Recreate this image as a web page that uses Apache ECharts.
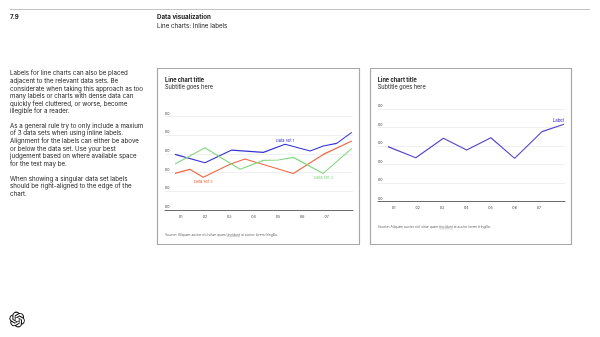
<!DOCTYPE html>
<html>
<head>
<meta charset="utf-8">
<title>Line charts: Inline labels</title>
<script src="https://cdn.jsdelivr.net/npm/echarts@6/dist/echarts.min.js"></script>
<style>
  html, body { margin: 0; padding: 0; background: #fff; }
  #main { width: 600px; height: 337px; }
</style>
</head>
<body>
<div id="main"></div>
<script>
// Category tick labels shared by both charts
const categories = ['01', '02', '03', '04', '05', '06', '07'];
// Value-axis tick labels (placeholder text on every gridline)
const yTicks = ['00', '00', '00', '00', '00', '00'];

// Multi-series chart: vertex positions along the category scale and values
const set1X = [0.77, 2.0, 3.1, 4.4, 5.29, 6.32, 6.86, 7.41, 8.03];
const set1Y = [2.98, 2.53, 3.21, 3.09, 3.52, 3.16, 3.43, 3.57, 4.16];
const set2X = [0.77, 1.38, 1.93, 3.03, 3.64, 5.63, 6.86, 8.03];
const set2Y = [1.96, 2.18, 1.75, 2.45, 2.73, 1.96, 2.98, 3.70];
const set3X = [0.77, 2.0, 3.44, 4.40, 5.01, 5.63, 6.86, 8.03];
const set3Y = [2.46, 3.34, 2.18, 2.66, 2.68, 2.82, 1.96, 3.30];

// Single-series chart
const singleX = [0.77, 1.92, 3.06, 4.02, 5.02, 6.0, 7.13, 8.04];
const singleY = [2.97, 2.37, 3.42, 2.79, 3.45, 2.34, 3.78, 4.18];

const seriesNames = ['Data set 1', 'Data set 2', 'Data set 3'];
const singleLabel = 'Label';

const FONT = 'Inter, "Liberation Sans", Arial, sans-serif';
const X_MIN = 0.36, X_MAX = 8.08;
const COLORS = { set1: '#3535d2', set2: '#ee6942', set3: '#84d884', single: '#5447cf' };

const paragraphs = [
  'Labels for line charts can also be placed\nadjacent to the relevant data sets. Be\nconsiderate when taking this approach as too\nmany labels or charts with dense data can\nquickly feel cluttered, or worse, become\nillegible for a reader.',
  'As a general rule try to only include a maxium\nof 3 data sets when using inline labels.\nAlignment for the labels can either be above\nor below the data set. Use your best\njudgement based on where available space\nfor the text may be.',
  'When showing a singular data set labels\nshould be right-aligned to the edge of the\nchart.'
];
const sourcePre = 'Source: Aliquam auctor nisl vitae quam ';
const sourceLink = 'tincidunt';
const sourcePost = ' at auctor lorem fringilla.';

const logoPath = 'M22.2819 9.8211a5.9847 5.9847 0 0 0-.5157-4.9108 6.0462 6.0462 0 0 0-6.5098-2.9A6.0651 6.0651 0 0 0 4.9807 4.1818a5.9847 5.9847 0 0 0-3.9977 2.9 6.0462 6.0462 0 0 0 .7427 7.0966 5.98 5.98 0 0 0 .511 4.9107 6.051 6.051 0 0 0 6.5146 2.9001A5.9847 5.9847 0 0 0 13.2599 24a6.0557 6.0557 0 0 0 5.7718-4.2058 5.9894 5.9894 0 0 0 3.9977-2.9001 6.0557 6.0557 0 0 0-.7475-7.0729zm-9.022 12.6081a4.4755 4.4755 0 0 1-2.8764-1.0408l.1419-.0804 4.7783-2.7582a.7948.7948 0 0 0 .3927-.6813v-6.7369l2.02 1.1686a.071.071 0 0 1 .038.052v5.5826a4.504 4.504 0 0 1-4.4945 4.4944zm-9.6607-4.1254a4.4708 4.4708 0 0 1-.5346-3.0137l.142.0852 4.783 2.7582a.7712.7712 0 0 0 .7806 0l5.8428-3.3685v2.3324a.0804.0804 0 0 1-.0332.0615L9.74 19.9502a4.4992 4.4992 0 0 1-6.1408-1.6464zM2.3408 7.8956a4.485 4.485 0 0 1 2.3655-1.9728V11.6a.7664.7664 0 0 0 .3879.6765l5.8144 3.3543-2.0201 1.1685a.0757.0757 0 0 1-.071 0l-4.8303-2.7865A4.504 4.504 0 0 1 2.3408 7.872zm16.5963 3.8558L13.1038 8.364 15.1192 7.2a.0757.0757 0 0 1 .071 0l4.8303 2.7913a4.4944 4.4944 0 0 1-.6765 8.1042v-5.6772a.79.79 0 0 0-.407-.667zm2.0107-3.0231l-.142-.0852-4.7735-2.7818a.7759.7759 0 0 0-.7854 0L9.409 9.2297V6.8974a.0662.0662 0 0 1 .0284-.0615l4.8303-2.7866a4.4992 4.4992 0 0 1 6.6802 4.66zM8.3065 12.863l-2.02-1.1638a.0804.0804 0 0 1-.038-.0567V6.0742a4.4992 4.4992 0 0 1 7.3757-3.4537l-.142.0805L8.704 5.459a.7948.7948 0 0 0-.3927.6813zm1.0976-2.3654l2.602-1.4998 2.6069 1.4998v2.9994l-2.5974 1.4997-2.6067-1.4997Z';

// Logo outline as a reusable shape for the graphic component
echarts.graphic.registerShape('brandMark', echarts.graphic.extendPath(logoPath, {}));

// Build [x, y] pairs; one vertex optionally carries the inline label
function points(xs, ys, labelIndex, label, name) {
  return xs.map((x, i) => {
    if (i === labelIndex) {
      return { value: [x, ys[i]], label: Object.assign({ show: true, formatter: name }, label) };
    }
    return [x, ys[i]];
  });
}

function lineSeries(name, idx, data, color) {
  return {
    name: name, type: 'line', xAxisIndex: idx, yAxisIndex: idx,
    data: data, symbol: 'circle', symbolSize: 0, showSymbol: true,
    lineStyle: { color: color, width: 1.15 }, itemStyle: { color: color },
    label: { show: false, color: color, fontFamily: FONT, fontSize: 4 },
    emphasis: { disabled: true }, silent: true, z: 3
  };
}

function measure(str, font) {
  const c = document.createElement('canvas').getContext('2d');
  c.font = font;
  return c.measureText(str).width;
}

function sourceGraphics(x, y) {
  const size = 3.3;
  const font = size + 'px ' + FONT;
  const preW = measure(sourcePre, font);
  const linkW = measure(sourceLink, font);
  return [
    { type: 'text', x: x, y: y, style: { text: sourcePre + sourceLink + sourcePost, fontFamily: FONT, fontSize: size, fill: '#666', verticalAlign: 'middle' } },
    { type: 'line', shape: { x1: x + preW, y1: y + 1.6, x2: x + preW + linkW, y2: y + 1.6 }, style: { stroke: '#888', lineWidth: 0.35 } }
  ];
}

function text(x, y, str, size, weight, color, lineHeight, vAlign) {
  return { type: 'text', x: x, y: y, style: {
    text: str, fill: color || '#1a1a1a', fontFamily: FONT, fontSize: size,
    fontWeight: weight || 'normal', verticalAlign: vAlign || 'middle', lineHeight: lineHeight
  } };
}

const axisLabelStyle = { fontFamily: FONT, fontSize: 3.6, color: '#444' };

const xAxes = [0, 1].map(i => ({
  type: 'value', gridIndex: i, min: X_MIN, max: X_MAX,
  axisLine: { show: true, onZero: false, lineStyle: { color: '#4a4a4a', width: 0.8 } },
  axisTick: { show: false }, splitLine: { show: false },
  axisLabel: Object.assign({
    customValues: categories.map((c, k) => k + 1),
    formatter: v => categories[Math.round(v) - 1], margin: 4.5
  }, axisLabelStyle)
}));

const yAxes = [0, 1].map(i => ({
  type: 'value', gridIndex: i, min: 0, max: 5, interval: 1,
  axisLine: { show: false }, axisTick: { show: false },
  splitLine: { lineStyle: { color: '#ebebeb', width: 0.8 } },
  axisLabel: Object.assign({
    inside: true, margin: 0, verticalAlign: 'bottom', padding: [0, 0, 1, 0],
    formatter: v => yTicks[v]
  }, axisLabelStyle)
}));

const chart = echarts.init(document.getElementById('main'), null, { renderer: 'canvas' });

const LH = 7.6;
chart.setOption({
  animation: false,
  backgroundColor: '#ffffff',
  grid: [
    { left: 165, top: 116.7, width: 188, height: 93.3 },
    { left: 378, top: 109, width: 187, height: 92.7 }
  ],
  xAxis: xAxes,
  yAxis: yAxes,
  series: [
    lineSeries(seriesNames[0], 0, points(set1X, set1Y, 4, { position: 'top', distance: 2 }, seriesNames[0]), COLORS.set1),
    lineSeries(seriesNames[1], 0, points(set2X, set2Y, 2, { position: 'bottom', distance: 2.5 }, seriesNames[1]), COLORS.set2),
    lineSeries(seriesNames[2], 0, points(set3X, set3Y, 6, { position: 'bottom', distance: 2.5 }, seriesNames[2]), COLORS.set3),
    lineSeries(singleLabel, 1, points(singleX, singleY, singleX.length - 1,
      { position: 'top', distance: 2, align: 'right', fontSize: 4.4, fontWeight: 500 }, singleLabel), COLORS.single)
  ],
  graphic: [
    // Page header
    { type: 'line', shape: { x1: 10, y1: 9.5, x2: 590, y2: 9.5 }, style: { stroke: '#c4c4c4', lineWidth: 1 } },
    text(10, 17.5, '7.9', 6.2, 'bold'),
    text(157, 17.5, 'Data visualization', 6.2, 'bold'),
    text(157, 26, 'Line charts: Inline labels', 6.2, 'normal'),
    // Body copy
    text(10, 73.5 - LH / 2, paragraphs[0], 6.2, 'normal', '#1a1a1a', LH, 'top'),
    text(10, 126 - LH / 2, paragraphs[1], 6.2, 'normal', '#1a1a1a', LH, 'top'),
    text(10, 179 - LH / 2, paragraphs[2], 6.2, 'normal', '#1a1a1a', LH, 'top'),
    // Chart cards
    { type: 'rect', shape: { x: 157.5, y: 68.5, width: 202, height: 176 }, style: { fill: 'none', stroke: '#a8a8a8', lineWidth: 1.2 }, z: -1 },
    { type: 'rect', shape: { x: 370.5, y: 68.5, width: 201, height: 176 }, style: { fill: 'none', stroke: '#a8a8a8', lineWidth: 1.2 }, z: -1 },
    text(165, 80, 'Line chart title', 5.6, 'bold'),
    text(165, 87.7, 'Subtitle goes here', 5.6, 'normal'),
    text(377.7, 80, 'Line chart title', 5.6, 'bold'),
    text(377.7, 87.7, 'Subtitle goes here', 5.6, 'normal'),
    ...sourceGraphics(165, 235),
    ...sourceGraphics(377.7, 227.3),
    // Logo
    { type: 'brandMark', x: 9.3, y: 311.7, scaleX: 15.7 / 24, scaleY: 15.7 / 24, style: { fill: '#111' } }
  ]
});
</script>
</body>
</html>
